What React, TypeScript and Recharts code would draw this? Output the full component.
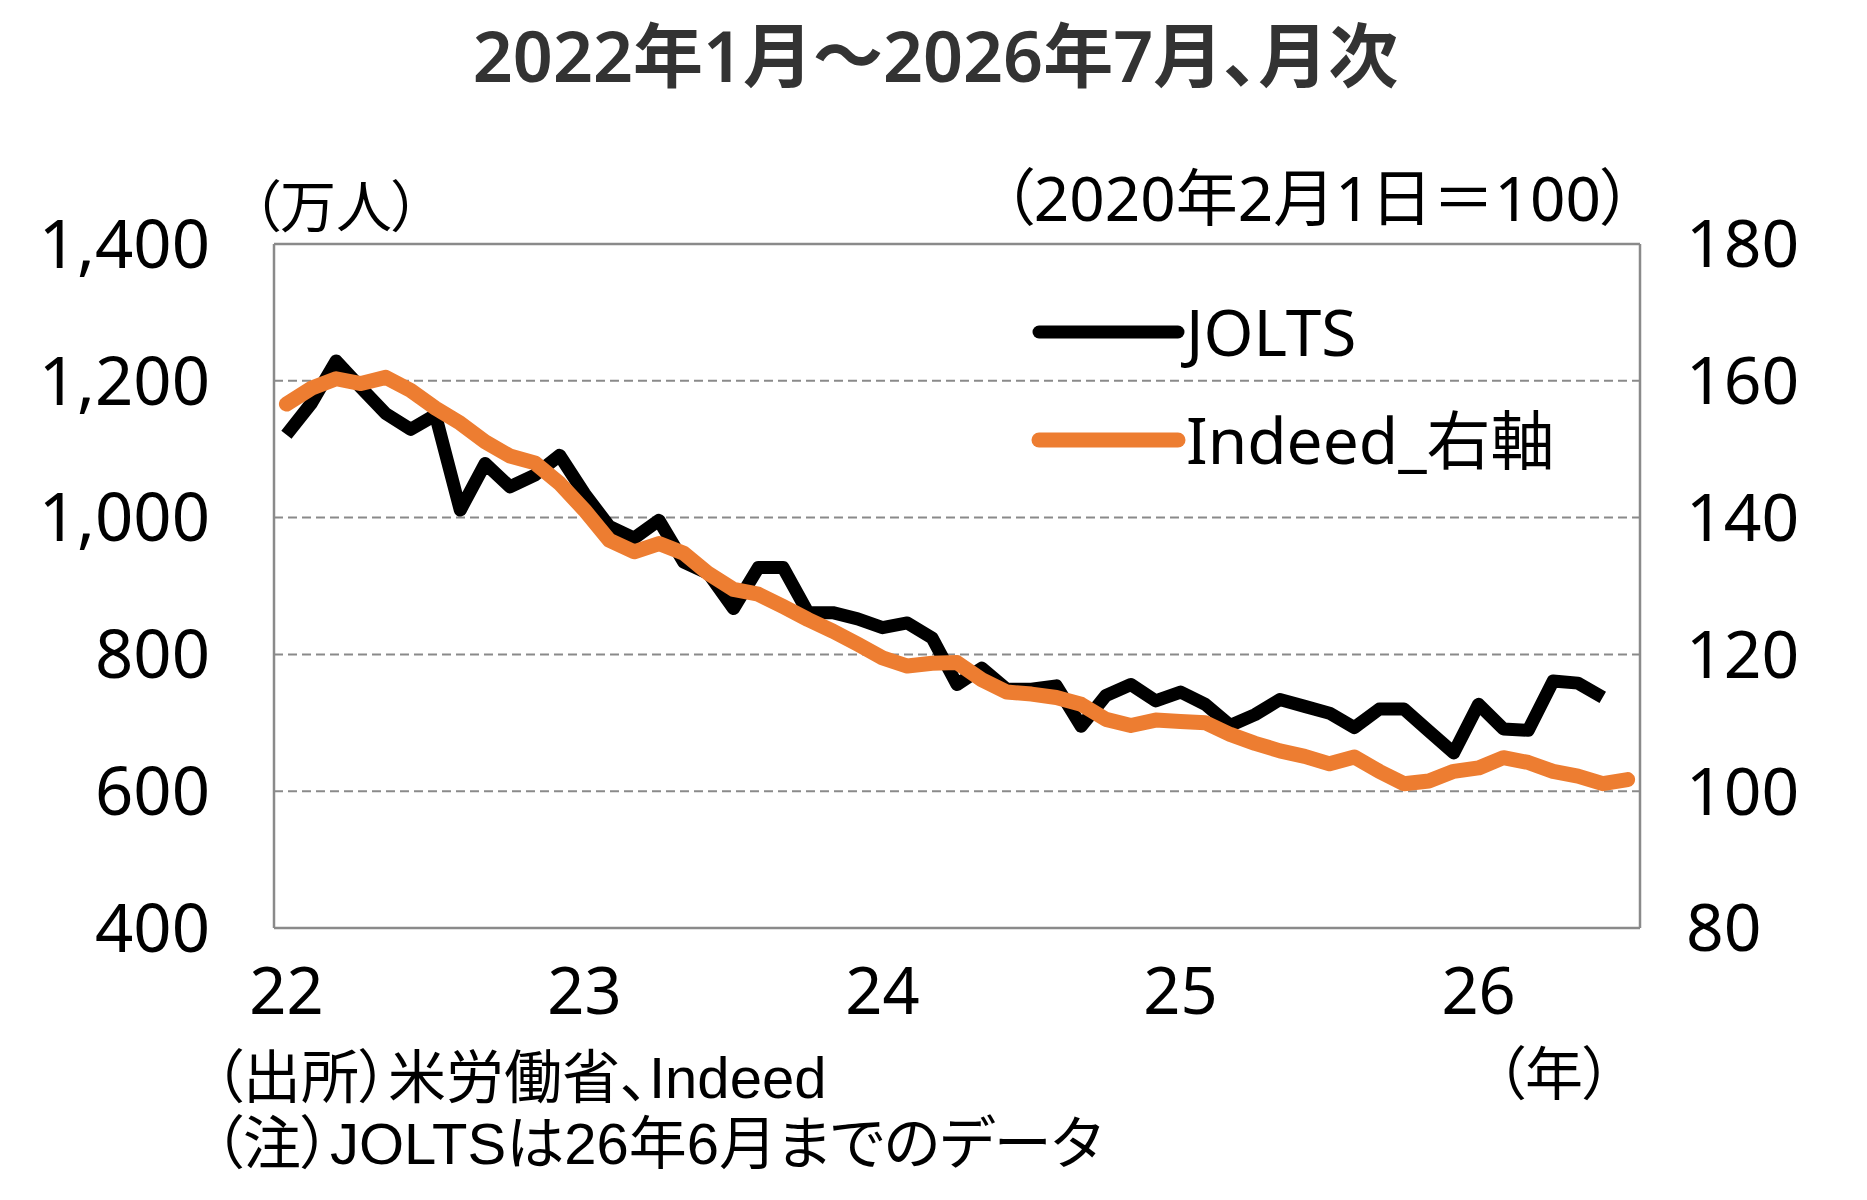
import { CartesianGrid, ComposedChart, Legend, Line, ReferenceLine, XAxis, YAxis } from "recharts";

// JOLTS求人数（万人）、2022年1月〜2026年6月
const jolts = [
  1121, 1167, 1229, 1190, 1152, 1129, 1150, 1011, 1079, 1045, 1062, 1091,
  1035, 987, 970, 996, 935, 918, 867, 927, 927, 861, 861, 852,
  839, 846, 824, 756, 780, 749, 749, 754, 695, 740, 756, 732,
  745, 727, 696, 712, 734, 724, 714, 693, 720, 720, 688, 656,
  727, 691, 689, 761, 758, 737,
];

// Indeed求人指数（2020年2月1日=100）、2022年1月〜2026年7月
const indeed = [
  156.6, 158.9, 160.3, 159.6, 160.5, 158.6, 156.0, 153.8, 151.1, 149.0, 148.0, 145.0,
  141.1, 136.7, 135.0, 136.2, 134.8, 131.8, 129.5, 128.8, 127.0, 125.1, 123.4, 121.5,
  119.5, 118.3, 118.7, 118.8, 116.3, 114.5, 114.2, 113.7, 112.7, 110.5, 109.6, 110.4,
  110.2, 110.0, 108.3, 107.0, 105.9, 105.1, 104.0, 105.0, 102.9, 101.1, 101.5, 102.9,
  103.4, 104.9, 104.2, 102.9, 102.2, 101.1, 101.7,
];

const yearTicks = ["22", "23", "24", "25", "26"];
const leftTicks = [400, 600, 800, 1000, 1200, 1400];
const rightTicks = [80, 100, 120, 140, 160, 180];
const legendOrder = ["jolts", "indeed"];

const data = indeed.map((v, i) => ({ m: i, jolts: jolts[i], indeed: v }));

const FONT = "'Noto Sans', 'Noto Sans CJK JP', sans-serif";
const NOTE_FONT = "'Liberation Sans', 'Noto Sans CJK JP', sans-serif";
const GRAY = "#8a8a8a";
const ORANGE = "#ED7D31";

const widths: Record<string, number> = { jolts: 13, indeed: 15 };

function LegendBox(props: any) {
  const items = [...(props.payload || [])].sort(
    (a: any, b: any) => legendOrder.indexOf(a.dataKey) - legendOrder.indexOf(b.dataKey)
  );
  return (
    <div style={{ fontFamily: FONT }}>
      {items.map((it: any) => (
        <div key={it.dataKey} style={{ display: "flex", alignItems: "center", height: 108 }}>
          <svg width={155} height={30} style={{ display: "block" }}>
            <line x1={8} y1={15} x2={147} y2={15} stroke={it.color} strokeWidth={widths[it.dataKey]} strokeLinecap="round" />
          </svg>
          <span style={{ fontSize: 64, lineHeight: 1, color: "#000" }}>{it.value}</span>
        </div>
      ))}
    </div>
  );
}

const text = (extra: any) => ({
  position: "absolute" as const,
  fontFamily: FONT,
  fontFeatureSettings: '"palt"',
  lineHeight: 1,
  whiteSpace: "nowrap" as const,
  color: "#000",
  ...extra,
});

export default function App() {
  return (
    <div style={{ position: "absolute", left: 0, top: 0, width: 1867, height: 1200, background: "#fff", fontFamily: FONT }}>
      <ComposedChart width={1867} height={1200} data={data} margin={{ top: 244, right: 77, bottom: 172, left: 74 }}>
        <CartesianGrid yAxisId="left" vertical={false} stroke={GRAY} strokeWidth={2} strokeDasharray="9 5" />
        <XAxis
          dataKey="m"
          type="number"
          domain={[-0.5, 54.5]}
          ticks={[0, 12, 24, 36, 48]}
          interval={0}
          tickFormatter={(v: number) => yearTicks[v / 12]}
          height={100}
          tickLine={false}
          tickSize={0}
          tickMargin={40}
          axisLine={{ stroke: GRAY, strokeWidth: 2.5 }}
          tick={{ fontSize: 65, fill: "#000", fontFamily: FONT }}
        />
        <YAxis
          yAxisId="left"
          domain={[400, 1400]}
          ticks={leftTicks}
          interval={0}
          tickFormatter={(v: number) => v.toLocaleString("en-US")}
          width={200}
          tickLine={false}
          tickSize={0}
          tickMargin={64}
          axisLine={{ stroke: GRAY, strokeWidth: 2.5 }}
          tick={{ fontSize: 67, fill: "#000", fontFamily: FONT }}
        />
        <YAxis
          yAxisId="right"
          orientation="right"
          domain={[80, 180]}
          ticks={rightTicks}
          interval={0}
          width={150}
          tickLine={false}
          tickSize={0}
          tickMargin={46}
          axisLine={{ stroke: GRAY, strokeWidth: 2.5 }}
          tick={{ fontSize: 66, fill: "#000", fontFamily: FONT }}
        />
        <ReferenceLine yAxisId="left" y={1400} stroke={GRAY} strokeWidth={2.5} />
        <Line
          yAxisId="left"
          dataKey="jolts"
          name="JOLTS"
          stroke="#000"
          strokeWidth={widths.jolts}
          strokeLinejoin="round"
          dot={false}
          activeDot={false}
          isAnimationActive={false}
        />
        <Line
          yAxisId="right"
          dataKey="indeed"
          name="Indeed_右軸"
          stroke={ORANGE}
          strokeWidth={widths.indeed}
          strokeLinejoin="round"
          strokeLinecap="round"
          dot={false}
          activeDot={false}
          isAnimationActive={false}
        />
        <Legend
          layout="horizontal"
          verticalAlign="middle"
          align="center"
          content={<LegendBox />}
          wrapperStyle={{ position: "absolute", left: 1031, top: 278, width: 620, height: 216 }}
        />
      </ComposedChart>

      <div style={text({ left: 0, width: 1867, top: 20, textAlign: "center", fontSize: 70, fontWeight: 600, color: "#333", paddingLeft: 2 })}>
        2022年1月～2026年7月、月次
      </div>
      <div style={text({ left: 252, top: 177, fontSize: 56 })}>（万人）</div>
      <div style={text({ right: 1867 - 1632, top: 166, fontSize: 62 })}>（2020年2月1日＝100）</div>
      <div style={text({ left: 1496, top: 1044, fontSize: 58 })}>（年）</div>
      <div style={text({ left: 214, top: 1049, fontSize: 58, fontFamily: NOTE_FONT })}>（出所）米労働省、Indeed</div>
      <div style={text({ left: 214, top: 1115, fontSize: 58, fontFamily: NOTE_FONT })}>（注）JOLTSは26年6月までのデータ</div>
    </div>
  );
}
